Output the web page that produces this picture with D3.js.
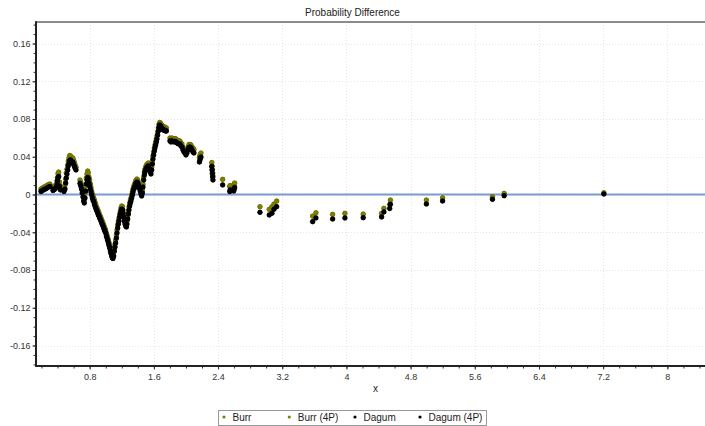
<!DOCTYPE html>
<html>
<head>
<meta charset="utf-8">
<script src="https://cdn.jsdelivr.net/npm/d3@7/dist/d3.min.js"></script>
<style>
  html, body { margin: 0; padding: 0; background: #fff; }
  svg { display: block; font-family: "Liberation Sans", Arial, sans-serif; }
</style>
</head>
<body>
<svg id="chart" width="705" height="426"></svg>
<script>
// Sample positions (x) shared by every fitted distribution
const xValues = [
  0.1931,0.2118,0.2305,0.2492,0.2679,0.2866,0.3053,
  0.3427,0.3551,0.3676,0.3801,0.3925,0.3988,0.4050,0.4137,0.4237,0.4361,
  0.4797,0.4922,0.5009,0.5084,0.5171,0.5259,0.5333,0.5421,0.5508,0.5607,0.5707,0.5794,0.5894,0.5981,0.6081,0.6168,0.6293,
  0.6791,0.6891,0.6978,0.7065,0.7165,0.7252,0.7327,0.7414,0.7502,0.7576,0.7664,0.7751,0.7826,0.7913,0.8000,0.8087,0.8162,0.8249,0.8336,0.8411,
  0.8498,0.8586,0.8660,0.8748,0.8835,0.8910,0.8997,0.9084,0.9159,0.9246,0.9333,0.9408,0.9495,0.9583,0.9657,0.9745,0.9832,0.9906,0.9994,
  1.0081,1.0156,1.0243,1.0330,1.0405,1.0492,1.0579,1.0654,1.0741,1.0829,1.0903,1.0991,1.1078,1.1153,1.1240,1.1327,1.1402,1.1489,1.1576,1.1651,1.1738,1.1826,1.1900,1.1987,
  1.2075,1.2149,1.2237,1.2324,1.2399,1.2486,1.2573,1.2648,1.2735,1.2822,1.2897,1.2984,1.3072,1.3146,1.3234,1.3321,1.3396,1.3483,1.3570,1.3645,1.3732,1.3819,1.3894,1.3981,
  1.4068,1.4143,1.4230,1.4318,1.4392,1.4480,1.4567,1.4642,1.4729,1.4816,1.4891,1.4978,1.5065,1.5140,1.5227,1.5314,1.5389,1.5476,1.5564,1.5638,1.5726,1.5813,1.5888,1.5975,
  1.6062,1.6137,1.6224,1.6311,1.6386,1.6473,1.6561,1.6635,1.6723,1.6810,1.6885,1.6972,1.7059,1.7134,1.7221,1.7308,1.7383,1.7470,1.7557,
  1.8006,1.8131,1.8255,1.8380,1.8505,1.8629,1.8754,1.8878,1.9003,1.9128,1.9252,1.9377,1.9501,1.9626,1.9751,1.9875,2.0000,2.0125,2.0249,2.0374,2.0498,2.0623,2.0748,2.0872,2.0997,
  2.1682,2.1744,2.1807,2.1869,
  2.3215,2.3252,2.3290,2.3327,2.3364,
  2.4573,2.5458,2.5508,2.5956,2.6019,2.6068,
  2.9221,3.0380,3.0716,3.0966,3.1302,
  3.5788,3.6199,3.8280,3.9813,4.2093,4.4386,4.4672,4.5395,4.5483,4.9968,5.1987,5.8202,5.9660,7.2087
];

// Empirical minus fitted probability, one array per distribution
const burr = [
  0.0058,0.0069,0.0079,0.0085,0.0095,0.0106,0.0111,
  0.0069,0.0079,0.0090,0.0106,0.0143,0.0180,0.0223,0.0238,0.0132,0.0079,
  0.0058,0.0101,0.0164,0.0228,0.0270,0.0313,0.0355,0.0387,0.0413,0.0408,0.0397,0.0376,0.0387,0.0366,0.0344,0.0318,0.0291,
  0.0154,0.0132,0.0101,0.0058,0.0016,-0.0026,-0.0053,0.0016,0.0090,0.0175,0.0217,0.0249,0.0228,0.0185,0.0154,0.0111,0.0074,0.0037,0.0005,-0.0016,
  -0.0037,-0.0058,-0.0079,-0.0101,-0.0127,-0.0143,-0.0159,-0.0180,-0.0196,-0.0217,-0.0233,-0.0249,-0.0270,-0.0286,-0.0302,-0.0323,-0.0344,-0.0360,-0.0376,
  -0.0408,-0.0429,-0.0456,-0.0482,-0.0509,-0.0535,-0.0567,-0.0593,-0.0620,-0.0641,-0.0652,-0.0620,-0.0567,-0.0525,-0.0482,-0.0429,-0.0376,-0.0323,-0.0281,-0.0249,-0.0207,-0.0175,-0.0143,-0.0122,
  -0.0127,-0.0164,-0.0207,-0.0249,-0.0281,-0.0302,-0.0313,-0.0281,-0.0228,-0.0175,-0.0132,-0.0090,-0.0058,-0.0037,-0.0005,0.0026,0.0058,0.0085,0.0101,0.0122,0.0143,0.0154,0.0164,0.0154,
  0.0132,0.0111,0.0090,0.0064,0.0037,0.0016,0.0048,0.0111,0.0185,0.0238,0.0270,0.0291,0.0307,0.0318,0.0328,0.0334,0.0313,0.0291,0.0270,0.0249,0.0291,0.0355,0.0408,0.0450,
  0.0493,0.0525,0.0556,0.0588,0.0620,0.0662,0.0705,0.0742,0.0763,0.0758,0.0747,0.0736,0.0726,0.0721,0.0715,0.0710,0.0715,0.0705,0.0705,
  0.0599,0.0588,0.0599,0.0593,0.0588,0.0593,0.0588,0.0577,0.0572,0.0567,0.0567,0.0546,0.0535,0.0503,0.0482,0.0472,0.0450,0.0472,0.0503,0.0530,0.0530,0.0525,0.0503,0.0493,0.0477,
  0.0397,0.0413,0.0429,0.0440,
  0.0339,0.0302,0.0265,0.0228,0.0196,
  0.0161,0.0085,0.0095,0.0090,0.0111,0.0122,
  -0.0129,-0.0157,-0.0129,-0.0101,-0.0069,
  -0.0228,-0.0193,-0.0210,-0.0199,-0.0207,-0.0199,-0.0146,-0.0106,-0.0058,-0.0058,-0.0034,-0.0023,0.0013,0.0019
];

const burr4p = [
  0.0057,0.0069,0.0078,0.0085,0.0094,0.0106,0.0110,
  0.0068,0.0079,0.0089,0.0105,0.0142,0.0179,0.0222,0.0237,0.0131,0.0078,
  0.0057,0.0100,0.0163,0.0227,0.0269,0.0312,0.0354,0.0386,0.0412,0.0407,0.0396,0.0375,0.0386,0.0365,0.0343,0.0317,0.0290,
  0.0153,0.0131,0.0100,0.0057,0.0015,-0.0027,-0.0054,0.0015,0.0089,0.0174,0.0216,0.0248,0.0227,0.0184,0.0153,0.0110,0.0073,0.0036,0.0004,-0.0017,
  -0.0038,-0.0059,-0.0080,-0.0102,-0.0128,-0.0144,-0.0160,-0.0181,-0.0197,-0.0218,-0.0234,-0.0250,-0.0271,-0.0287,-0.0303,-0.0324,-0.0345,-0.0361,-0.0377,
  -0.0409,-0.0430,-0.0457,-0.0483,-0.0510,-0.0536,-0.0568,-0.0594,-0.0621,-0.0642,-0.0653,-0.0621,-0.0568,-0.0526,-0.0483,-0.0430,-0.0377,-0.0324,-0.0282,-0.0250,-0.0208,-0.0176,-0.0144,-0.0123,
  -0.0128,-0.0165,-0.0208,-0.0250,-0.0282,-0.0303,-0.0314,-0.0282,-0.0229,-0.0176,-0.0133,-0.0091,-0.0059,-0.0038,-0.0006,0.0025,0.0057,0.0084,0.0100,0.0121,0.0142,0.0153,0.0163,0.0153,
  0.0131,0.0110,0.0089,0.0063,0.0036,0.0015,0.0047,0.0110,0.0184,0.0237,0.0269,0.0290,0.0306,0.0317,0.0327,0.0333,0.0312,0.0290,0.0269,0.0248,0.0290,0.0354,0.0407,0.0449,
  0.0492,0.0524,0.0555,0.0587,0.0619,0.0661,0.0704,0.0741,0.0762,0.0757,0.0746,0.0735,0.0725,0.0720,0.0714,0.0709,0.0714,0.0704,0.0704,
  0.0598,0.0587,0.0598,0.0592,0.0587,0.0592,0.0587,0.0576,0.0571,0.0566,0.0566,0.0545,0.0534,0.0502,0.0481,0.0471,0.0449,0.0471,0.0502,0.0529,0.0529,0.0524,0.0502,0.0492,0.0476,
  0.0396,0.0412,0.0428,0.0439,
  0.0338,0.0301,0.0264,0.0227,0.0195,
  0.0160,0.0084,0.0094,0.0089,0.0110,0.0121,
  -0.0130,-0.0158,-0.0130,-0.0102,-0.0070,
  -0.0229,-0.0194,-0.0211,-0.0200,-0.0208,-0.0200,-0.0147,-0.0107,-0.0059,-0.0059,-0.0035,-0.0024,0.0012,0.0018
];

const dagum = [
  0.0032,0.0042,0.0053,0.0058,0.0069,0.0079,0.0085,
  0.0042,0.0053,0.0058,0.0074,0.0101,0.0143,0.0175,0.0191,0.0090,0.0048,
  0.0032,0.0058,0.0122,0.0175,0.0217,0.0260,0.0302,0.0334,0.0360,0.0366,0.0350,0.0334,0.0344,0.0323,0.0302,0.0281,0.0260,
  0.0117,0.0090,0.0058,0.0016,-0.0026,-0.0069,-0.0090,-0.0037,0.0037,0.0111,0.0154,0.0180,0.0164,0.0122,0.0090,0.0058,0.0026,-0.0005,-0.0037,-0.0058,
  -0.0074,-0.0101,-0.0122,-0.0143,-0.0164,-0.0175,-0.0196,-0.0217,-0.0228,-0.0249,-0.0265,-0.0281,-0.0302,-0.0318,-0.0334,-0.0355,-0.0376,-0.0392,-0.0408,
  -0.0440,-0.0461,-0.0487,-0.0514,-0.0540,-0.0567,-0.0599,-0.0625,-0.0652,-0.0673,-0.0678,-0.0652,-0.0599,-0.0556,-0.0514,-0.0461,-0.0408,-0.0355,-0.0313,-0.0281,-0.0238,-0.0207,-0.0175,-0.0154,
  -0.0164,-0.0196,-0.0238,-0.0281,-0.0313,-0.0334,-0.0344,-0.0313,-0.0260,-0.0207,-0.0164,-0.0122,-0.0090,-0.0069,-0.0037,-0.0005,0.0026,0.0053,0.0069,0.0090,0.0111,0.0122,0.0132,0.0122,
  0.0101,0.0079,0.0058,0.0032,0.0005,-0.0016,0.0016,0.0079,0.0154,0.0207,0.0238,0.0260,0.0275,0.0286,0.0297,0.0302,0.0281,0.0260,0.0238,0.0217,0.0260,0.0323,0.0376,0.0419,
  0.0461,0.0493,0.0525,0.0556,0.0588,0.0630,0.0673,0.0710,0.0736,0.0726,0.0715,0.0705,0.0694,0.0689,0.0683,0.0678,0.0683,0.0673,0.0673,
  0.0567,0.0556,0.0567,0.0562,0.0556,0.0562,0.0556,0.0546,0.0540,0.0535,0.0535,0.0514,0.0503,0.0472,0.0450,0.0440,0.0419,0.0440,0.0472,0.0498,0.0503,0.0493,0.0472,0.0450,0.0440,
  0.0344,0.0366,0.0387,0.0397,
  0.0297,0.0260,0.0223,0.0185,0.0154,
  0.0101,0.0032,0.0048,0.0037,0.0058,0.0074,
  -0.0189,-0.0217,-0.0199,-0.0157,-0.0129,
  -0.0288,-0.0249,-0.0260,-0.0249,-0.0246,-0.0238,-0.0185,-0.0148,-0.0104,-0.0101,-0.0069,-0.0051,-0.0013,0.0005
];

const dagum4p = [
  0.0033,0.0043,0.0053,0.0059,0.0069,0.0080,0.0085,
  0.0043,0.0053,0.0059,0.0075,0.0101,0.0144,0.0176,0.0191,0.0091,0.0049,
  0.0033,0.0059,0.0123,0.0176,0.0218,0.0261,0.0303,0.0335,0.0361,0.0367,0.0351,0.0335,0.0345,0.0324,0.0303,0.0282,0.0261,
  0.0118,0.0091,0.0059,0.0017,-0.0025,-0.0068,-0.0089,-0.0036,0.0038,0.0112,0.0155,0.0181,0.0165,0.0123,0.0091,0.0059,0.0027,-0.0004,-0.0036,-0.0057,
  -0.0073,-0.0100,-0.0121,-0.0142,-0.0163,-0.0174,-0.0195,-0.0216,-0.0227,-0.0248,-0.0264,-0.0280,-0.0301,-0.0317,-0.0333,-0.0354,-0.0375,-0.0391,-0.0407,
  -0.0439,-0.0460,-0.0486,-0.0513,-0.0539,-0.0566,-0.0598,-0.0624,-0.0651,-0.0672,-0.0677,-0.0651,-0.0598,-0.0555,-0.0513,-0.0460,-0.0407,-0.0354,-0.0312,-0.0280,-0.0237,-0.0206,-0.0174,-0.0153,
  -0.0163,-0.0195,-0.0237,-0.0280,-0.0312,-0.0333,-0.0343,-0.0312,-0.0259,-0.0206,-0.0163,-0.0121,-0.0089,-0.0068,-0.0036,-0.0004,0.0027,0.0054,0.0070,0.0091,0.0112,0.0123,0.0133,0.0123,
  0.0102,0.0080,0.0059,0.0033,0.0006,-0.0015,0.0017,0.0080,0.0155,0.0208,0.0239,0.0261,0.0276,0.0287,0.0298,0.0303,0.0282,0.0261,0.0239,0.0218,0.0261,0.0324,0.0377,0.0420,
  0.0462,0.0494,0.0526,0.0557,0.0589,0.0631,0.0674,0.0711,0.0737,0.0727,0.0716,0.0706,0.0695,0.0690,0.0684,0.0679,0.0684,0.0674,0.0674,
  0.0568,0.0557,0.0568,0.0563,0.0557,0.0563,0.0557,0.0547,0.0541,0.0536,0.0536,0.0515,0.0504,0.0473,0.0451,0.0441,0.0420,0.0441,0.0473,0.0499,0.0504,0.0494,0.0473,0.0451,0.0441,
  0.0345,0.0367,0.0388,0.0398,
  0.0298,0.0261,0.0224,0.0186,0.0155,
  0.0102,0.0033,0.0049,0.0038,0.0059,0.0075,
  -0.0188,-0.0216,-0.0198,-0.0156,-0.0128,
  -0.0287,-0.0248,-0.0259,-0.0248,-0.0245,-0.0237,-0.0184,-0.0147,-0.0103,-0.0100,-0.0068,-0.0050,-0.0012,0.0006
];

const seriesNames = ["Burr", "Burr (4P)", "Dagum", "Dagum (4P)"];
const seriesValues = [burr, burr4p, dagum, dagum4p];
const seriesColors = ["#808000", "#808000", "#000000", "#000000"];

const xTicks = [0.8, 1.6, 2.4, 3.2, 4, 4.8, 5.6, 6.4, 7.2, 8];
const xTickLabels = ["0.8", "1.6", "2.4", "3.2", "4", "4.8", "5.6", "6.4", "7.2", "8"];
const yTicks = [-0.16, -0.12, -0.08, -0.04, 0, 0.04, 0.08, 0.12, 0.16];
const yTickLabels = ["-0.16", "-0.12", "-0.08", "-0.04", "0", "0.04", "0.08", "0.12", "0.16"];

const chartTitle = "Probability Difference";
const xAxisTitle = "x";

// ---- layout ----
const W = 705, H = 426;
const plot = { left: 36, right: 715, top: 22, bottom: 366 };

const svg = d3.select("#chart");

const x = d3.scaleLinear().domain([0.1308, 8.594]).range([plot.left, plot.right]);
const y = d3.scaleLinear().domain([-0.1817, 0.1828]).range([plot.bottom, plot.top]);

svg.append("defs").append("clipPath").attr("id", "plotClip")
  .append("rect")
  .attr("x", plot.left).attr("y", plot.top)
  .attr("width", plot.right - plot.left).attr("height", plot.bottom - plot.top);

// title
svg.append("text")
  .attr("x", W / 2).attr("y", 16)
  .attr("text-anchor", "middle")
  .attr("font-size", "10px").attr("fill", "#222")
  .text(chartTitle);

// grid
const grid = svg.append("g").attr("stroke", "#e6e6e6").attr("stroke-dasharray", "1,2").attr("stroke-width", 1);
grid.selectAll("line.vx").data(xTicks).join("line")
  .attr("x1", d => Math.round(x(d)) + 0.5).attr("x2", d => Math.round(x(d)) + 0.5)
  .attr("y1", plot.top).attr("y2", plot.bottom);
grid.selectAll("line.hy").data(yTicks).join("line")
  .attr("x1", plot.left).attr("x2", plot.right)
  .attr("y1", d => Math.round(y(d)) + 0.5).attr("y2", d => Math.round(y(d)) + 0.5);

// top frame edge
svg.append("line")
  .attr("x1", plot.left).attr("x2", plot.right)
  .attr("y1", plot.top).attr("y2", plot.top)
  .attr("stroke", "#666").attr("stroke-width", 1.5);

// zero reference line
svg.append("line")
  .attr("x1", plot.left).attr("x2", plot.right)
  .attr("y1", y(0)).attr("y2", y(0))
  .attr("stroke", "#7b9bd6").attr("stroke-width", 2);

// points
const pts = svg.append("g").attr("clip-path", "url(#plotClip)");
seriesValues.forEach((vals, si) => {
  pts.append("g")
    .selectAll("circle")
    .data(vals)
    .join("circle")
    .attr("cx", (d, i) => x(xValues[i]))
    .attr("cy", d => y(d))
    .attr("r", 2.3)
    .attr("fill", seriesColors[si])
    .attr("stroke", si < 2 ? "#5e5e00" : "#000")
    .attr("stroke-width", 0.4);
});

// axes
const xMinor = d3.range(1, 43).map(i => +(i * 0.2).toFixed(1));
const yMinor = d3.range(-18, 19).map(i => +(i * 0.01).toFixed(2));

const xAxisG = svg.append("g").attr("transform", `translate(0,${plot.bottom})`);
xAxisG.call(d3.axisBottom(x).tickValues(xMinor).tickSize(2.5).tickFormat(""));
xAxisG.call(g => g.select(".domain").remove());
const xMajorG = svg.append("g").attr("transform", `translate(0,${plot.bottom})`)
  .call(d3.axisBottom(x).tickValues(xTicks).tickSize(3.5)
    .tickFormat((d, i) => xTickLabels[i]).tickPadding(4));
xMajorG.select(".domain").remove();
xMajorG.selectAll("text").attr("font-size", "9px").attr("fill", "#333").attr("font-family", "Liberation Sans, Arial, sans-serif");

const yAxisG = svg.append("g").attr("transform", `translate(${plot.left},0)`);
yAxisG.call(d3.axisLeft(y).tickValues(yMinor).tickSize(2.5).tickFormat(""));
yAxisG.call(g => g.select(".domain").remove());
const yMajorG = svg.append("g").attr("transform", `translate(${plot.left},0)`)
  .call(d3.axisLeft(y).tickValues(yTicks).tickSize(3.5)
    .tickFormat((d, i) => yTickLabels[i]).tickPadding(2));
yMajorG.select(".domain").remove();
yMajorG.selectAll("text").attr("font-size", "9px").attr("fill", "#333").attr("font-family", "Liberation Sans, Arial, sans-serif");

svg.selectAll(".tick line").attr("stroke", "#333");

// axis lines
svg.append("line")
  .attr("x1", plot.left).attr("x2", plot.left)
  .attr("y1", plot.top - 0.75).attr("y2", plot.bottom + 1)
  .attr("stroke", "#222").attr("stroke-width", 2);
svg.append("line")
  .attr("x1", plot.left - 1).attr("x2", plot.right)
  .attr("y1", plot.bottom).attr("y2", plot.bottom)
  .attr("stroke", "#222").attr("stroke-width", 2);

// x axis title
svg.append("text")
  .attr("x", (plot.left + plot.right) / 2).attr("y", 392)
  .attr("text-anchor", "middle")
  .attr("font-size", "10px").attr("fill", "#222")
  .text(xAxisTitle);

// legend
const legend = { x: 218.5, y: 410.5, w: 268, h: 15 };
svg.append("rect")
  .attr("x", legend.x).attr("y", legend.y)
  .attr("width", legend.w).attr("height", legend.h)
  .attr("fill", "#fff").attr("stroke", "#999").attr("stroke-width", 1);
const legendOffsets = [0, 65.3, 131, 196];
const li = svg.append("g").selectAll("g").data(seriesNames).join("g")
  .attr("transform", (d, i) => `translate(${legend.x + 5.5 + legendOffsets[i]},${legend.y + 6.5})`);
li.append("circle").attr("r", 1.6).attr("fill", (d, i) => seriesColors[i]);
li.append("text").attr("x", 8.5).attr("y", 3.6)
  .attr("font-size", "10px").attr("fill", "#222")
  .text(d => d);
</script>
</body>
</html>
